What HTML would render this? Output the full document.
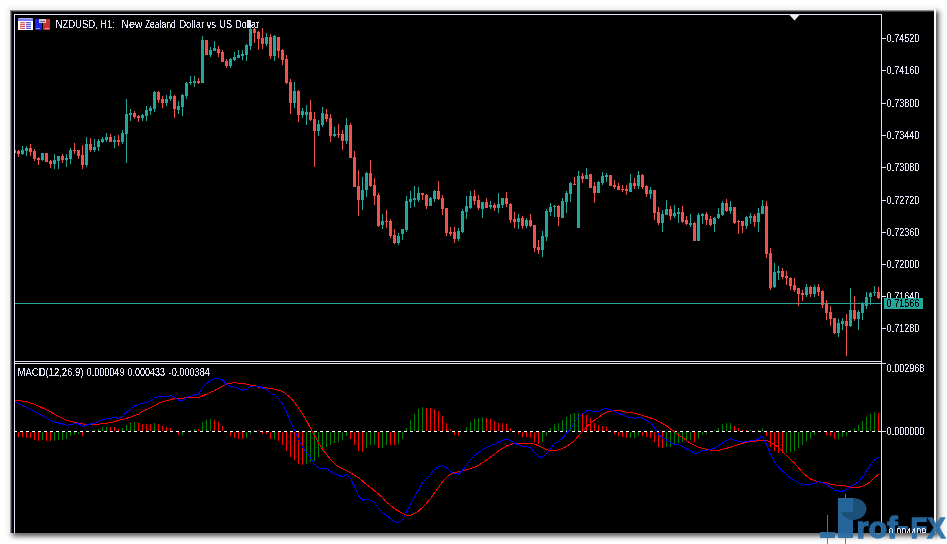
<!DOCTYPE html>
<html><head><meta charset="utf-8"><style>
html,body{margin:0;padding:0;background:#fff;width:947px;height:544px;overflow:hidden}
svg{display:block;font-family:"Liberation Sans", sans-serif}
</style></head><body><svg width="947" height="544" viewBox="0 0 947 544" font-family='"Liberation Sans", sans-serif'><rect x="0" y="0" width="947" height="544" fill="#ffffff"/><defs><filter id="th" x="0" y="0" width="100%" height="100%"><feComponentTransfer><feFuncA type="discrete" tableValues="0 0 0 0 0 0 0 0 0 1 1 1 1 1 1 1 1 1 1 1"/></feComponentTransfer></filter></defs><rect x="4" y="4" width="1" height="3" fill="rgb(254,254,254)"/><rect x="4" y="7" width="1" height="2" fill="rgb(253,253,253)"/><rect x="4" y="9" width="1" height="525" fill="rgb(252,252,252)"/><rect x="4" y="534" width="1" height="2" fill="rgb(253,253,253)"/><rect x="4" y="536" width="1" height="3" fill="rgb(254,254,254)"/><rect x="5" y="4" width="1" height="1" fill="rgb(254,254,254)"/><rect x="5" y="5" width="1" height="2" fill="rgb(253,253,253)"/><rect x="5" y="7" width="1" height="1" fill="rgb(252,252,252)"/><rect x="5" y="8" width="1" height="1" fill="rgb(251,251,251)"/><rect x="5" y="9" width="1" height="525" fill="rgb(250,250,250)"/><rect x="5" y="534" width="1" height="1" fill="rgb(251,251,251)"/><rect x="5" y="535" width="1" height="1" fill="rgb(252,252,252)"/><rect x="5" y="536" width="1" height="2" fill="rgb(253,253,253)"/><rect x="5" y="538" width="1" height="1" fill="rgb(254,254,254)"/><rect x="6" y="4" width="1" height="1" fill="rgb(254,254,254)"/><rect x="6" y="5" width="1" height="1" fill="rgb(253,253,253)"/><rect x="6" y="6" width="1" height="1" fill="rgb(252,252,252)"/><rect x="6" y="7" width="1" height="1" fill="rgb(251,251,251)"/><rect x="6" y="8" width="1" height="1" fill="rgb(249,249,249)"/><rect x="6" y="9" width="1" height="525" fill="rgb(248,248,248)"/><rect x="6" y="534" width="1" height="1" fill="rgb(249,249,249)"/><rect x="6" y="535" width="1" height="1" fill="rgb(251,251,251)"/><rect x="6" y="536" width="1" height="1" fill="rgb(252,252,252)"/><rect x="6" y="537" width="1" height="1" fill="rgb(253,253,253)"/><rect x="6" y="538" width="1" height="2" fill="rgb(254,254,254)"/><rect x="7" y="4" width="1" height="1" fill="rgb(253,253,253)"/><rect x="7" y="5" width="1" height="1" fill="rgb(252,252,252)"/><rect x="7" y="6" width="1" height="1" fill="rgb(251,251,251)"/><rect x="7" y="7" width="1" height="1" fill="rgb(250,250,250)"/><rect x="7" y="8" width="1" height="1" fill="rgb(248,248,248)"/><rect x="7" y="9" width="1" height="525" fill="rgb(246,246,246)"/><rect x="7" y="534" width="1" height="1" fill="rgb(247,247,247)"/><rect x="7" y="535" width="1" height="1" fill="rgb(248,248,248)"/><rect x="7" y="536" width="1" height="1" fill="rgb(250,250,250)"/><rect x="7" y="537" width="1" height="1" fill="rgb(251,251,251)"/><rect x="7" y="538" width="1" height="1" fill="rgb(253,253,253)"/><rect x="7" y="539" width="1" height="2" fill="rgb(254,254,254)"/><rect x="8" y="4" width="1" height="1" fill="rgb(253,253,253)"/><rect x="8" y="5" width="1" height="1" fill="rgb(251,251,251)"/><rect x="8" y="6" width="1" height="1" fill="rgb(249,249,249)"/><rect x="8" y="7" width="1" height="1" fill="rgb(248,248,248)"/><rect x="8" y="8" width="1" height="1" fill="rgb(245,245,245)"/><rect x="8" y="9" width="1" height="524" fill="rgb(243,243,243)"/><rect x="8" y="533" width="1" height="1" fill="rgb(238,238,238)"/><rect x="8" y="534" width="1" height="1" fill="rgb(240,240,240)"/><rect x="8" y="535" width="1" height="1" fill="rgb(242,242,242)"/><rect x="8" y="536" width="1" height="1" fill="rgb(245,245,245)"/><rect x="8" y="537" width="1" height="1" fill="rgb(248,248,248)"/><rect x="8" y="538" width="1" height="1" fill="rgb(251,251,251)"/><rect x="8" y="539" width="1" height="1" fill="rgb(253,253,253)"/><rect x="8" y="540" width="1" height="2" fill="rgb(254,254,254)"/><rect x="9" y="4" width="1" height="1" fill="rgb(252,252,252)"/><rect x="9" y="5" width="1" height="1" fill="rgb(250,250,250)"/><rect x="9" y="6" width="1" height="1" fill="rgb(248,248,248)"/><rect x="9" y="7" width="1" height="1" fill="rgb(246,246,246)"/><rect x="9" y="8" width="1" height="1" fill="rgb(243,243,243)"/><rect x="9" y="9" width="1" height="524" fill="rgb(240,240,240)"/><rect x="9" y="533" width="1" height="1" fill="rgb(227,227,227)"/><rect x="9" y="534" width="1" height="1" fill="rgb(230,230,230)"/><rect x="9" y="535" width="1" height="1" fill="rgb(234,234,234)"/><rect x="9" y="536" width="1" height="1" fill="rgb(239,239,239)"/><rect x="9" y="537" width="1" height="1" fill="rgb(244,244,244)"/><rect x="9" y="538" width="1" height="1" fill="rgb(248,248,248)"/><rect x="9" y="539" width="1" height="1" fill="rgb(251,251,251)"/><rect x="9" y="540" width="1" height="1" fill="rgb(253,253,253)"/><rect x="9" y="541" width="1" height="1" fill="rgb(254,254,254)"/><rect x="936" y="4" width="1" height="1" fill="rgb(252,252,252)"/><rect x="936" y="5" width="1" height="1" fill="rgb(250,250,250)"/><rect x="936" y="6" width="1" height="1" fill="rgb(248,248,248)"/><rect x="936" y="7" width="1" height="1" fill="rgb(243,243,243)"/><rect x="936" y="8" width="1" height="1" fill="rgb(231,231,231)"/><rect x="936" y="9" width="1" height="1" fill="rgb(214,214,214)"/><rect x="936" y="10" width="1" height="1" fill="rgb(192,192,192)"/><rect x="936" y="11" width="1" height="1" fill="rgb(168,168,168)"/><rect x="936" y="12" width="1" height="1" fill="rgb(146,146,146)"/><rect x="936" y="13" width="1" height="1" fill="rgb(129,129,129)"/><rect x="936" y="14" width="1" height="1" fill="rgb(117,117,117)"/><rect x="936" y="15" width="1" height="1" fill="rgb(110,110,110)"/><rect x="936" y="16" width="1" height="1" fill="rgb(107,107,107)"/><rect x="936" y="17" width="1" height="1" fill="rgb(106,106,106)"/><rect x="936" y="18" width="1" height="515" fill="rgb(105,105,105)"/><rect x="936" y="533" width="1" height="1" fill="rgb(121,121,121)"/><rect x="936" y="534" width="1" height="1" fill="rgb(132,132,132)"/><rect x="936" y="535" width="1" height="1" fill="rgb(152,152,152)"/><rect x="936" y="536" width="1" height="1" fill="rgb(177,177,177)"/><rect x="936" y="537" width="1" height="1" fill="rgb(201,201,201)"/><rect x="936" y="538" width="1" height="1" fill="rgb(221,221,221)"/><rect x="936" y="539" width="1" height="1" fill="rgb(235,235,235)"/><rect x="936" y="540" width="1" height="1" fill="rgb(245,245,245)"/><rect x="936" y="541" width="1" height="1" fill="rgb(250,250,250)"/><rect x="936" y="542" width="1" height="1" fill="rgb(253,253,253)"/><rect x="937" y="4" width="1" height="1" fill="rgb(253,253,253)"/><rect x="937" y="5" width="1" height="1" fill="rgb(251,251,251)"/><rect x="937" y="6" width="1" height="1" fill="rgb(249,249,249)"/><rect x="937" y="7" width="1" height="1" fill="rgb(245,245,245)"/><rect x="937" y="8" width="1" height="1" fill="rgb(235,235,235)"/><rect x="937" y="9" width="1" height="1" fill="rgb(221,221,221)"/><rect x="937" y="10" width="1" height="1" fill="rgb(202,202,202)"/><rect x="937" y="11" width="1" height="1" fill="rgb(183,183,183)"/><rect x="937" y="12" width="1" height="1" fill="rgb(164,164,164)"/><rect x="937" y="13" width="1" height="1" fill="rgb(150,150,150)"/><rect x="937" y="14" width="1" height="1" fill="rgb(140,140,140)"/><rect x="937" y="15" width="1" height="1" fill="rgb(134,134,134)"/><rect x="937" y="16" width="1" height="1" fill="rgb(132,132,132)"/><rect x="937" y="17" width="1" height="1" fill="rgb(131,131,131)"/><rect x="937" y="18" width="1" height="515" fill="rgb(130,130,130)"/><rect x="937" y="533" width="1" height="1" fill="rgb(143,143,143)"/><rect x="937" y="534" width="1" height="1" fill="rgb(153,153,153)"/><rect x="937" y="535" width="1" height="1" fill="rgb(169,169,169)"/><rect x="937" y="536" width="1" height="1" fill="rgb(190,190,190)"/><rect x="937" y="537" width="1" height="1" fill="rgb(210,210,210)"/><rect x="937" y="538" width="1" height="1" fill="rgb(226,226,226)"/><rect x="937" y="539" width="1" height="1" fill="rgb(239,239,239)"/><rect x="937" y="540" width="1" height="1" fill="rgb(247,247,247)"/><rect x="937" y="541" width="1" height="1" fill="rgb(251,251,251)"/><rect x="937" y="542" width="1" height="1" fill="rgb(253,253,253)"/><rect x="938" y="4" width="1" height="1" fill="rgb(253,253,253)"/><rect x="938" y="5" width="1" height="1" fill="rgb(252,252,252)"/><rect x="938" y="6" width="1" height="1" fill="rgb(251,251,251)"/><rect x="938" y="7" width="1" height="1" fill="rgb(247,247,247)"/><rect x="938" y="8" width="1" height="1" fill="rgb(240,240,240)"/><rect x="938" y="9" width="1" height="1" fill="rgb(229,229,229)"/><rect x="938" y="10" width="1" height="1" fill="rgb(215,215,215)"/><rect x="938" y="11" width="1" height="1" fill="rgb(200,200,200)"/><rect x="938" y="12" width="1" height="1" fill="rgb(186,186,186)"/><rect x="938" y="13" width="1" height="1" fill="rgb(175,175,175)"/><rect x="938" y="14" width="1" height="1" fill="rgb(168,168,168)"/><rect x="938" y="15" width="1" height="1" fill="rgb(163,163,163)"/><rect x="938" y="16" width="1" height="1" fill="rgb(161,161,161)"/><rect x="938" y="17" width="1" height="516" fill="rgb(160,160,160)"/><rect x="938" y="533" width="1" height="1" fill="rgb(170,170,170)"/><rect x="938" y="534" width="1" height="1" fill="rgb(177,177,177)"/><rect x="938" y="535" width="1" height="1" fill="rgb(190,190,190)"/><rect x="938" y="536" width="1" height="1" fill="rgb(205,205,205)"/><rect x="938" y="537" width="1" height="1" fill="rgb(221,221,221)"/><rect x="938" y="538" width="1" height="1" fill="rgb(233,233,233)"/><rect x="938" y="539" width="1" height="1" fill="rgb(243,243,243)"/><rect x="938" y="540" width="1" height="1" fill="rgb(249,249,249)"/><rect x="938" y="541" width="1" height="1" fill="rgb(252,252,252)"/><rect x="938" y="542" width="1" height="1" fill="rgb(254,254,254)"/><rect x="939" y="4" width="1" height="1" fill="rgb(254,254,254)"/><rect x="939" y="5" width="1" height="1" fill="rgb(253,253,253)"/><rect x="939" y="6" width="1" height="1" fill="rgb(252,252,252)"/><rect x="939" y="7" width="1" height="1" fill="rgb(250,250,250)"/><rect x="939" y="8" width="1" height="1" fill="rgb(245,245,245)"/><rect x="939" y="9" width="1" height="1" fill="rgb(237,237,237)"/><rect x="939" y="10" width="1" height="1" fill="rgb(228,228,228)"/><rect x="939" y="11" width="1" height="1" fill="rgb(217,217,217)"/><rect x="939" y="12" width="1" height="1" fill="rgb(208,208,208)"/><rect x="939" y="13" width="1" height="1" fill="rgb(200,200,200)"/><rect x="939" y="14" width="1" height="1" fill="rgb(195,195,195)"/><rect x="939" y="15" width="1" height="1" fill="rgb(192,192,192)"/><rect x="939" y="16" width="1" height="1" fill="rgb(191,191,191)"/><rect x="939" y="17" width="1" height="516" fill="rgb(190,190,190)"/><rect x="939" y="533" width="1" height="1" fill="rgb(197,197,197)"/><rect x="939" y="534" width="1" height="1" fill="rgb(202,202,202)"/><rect x="939" y="535" width="1" height="1" fill="rgb(210,210,210)"/><rect x="939" y="536" width="1" height="1" fill="rgb(221,221,221)"/><rect x="939" y="537" width="1" height="1" fill="rgb(232,232,232)"/><rect x="939" y="538" width="1" height="1" fill="rgb(240,240,240)"/><rect x="939" y="539" width="1" height="1" fill="rgb(247,247,247)"/><rect x="939" y="540" width="1" height="1" fill="rgb(251,251,251)"/><rect x="939" y="541" width="1" height="1" fill="rgb(253,253,253)"/><rect x="939" y="542" width="1" height="1" fill="rgb(254,254,254)"/><rect x="940" y="4" width="1" height="1" fill="rgb(254,254,254)"/><rect x="940" y="5" width="1" height="2" fill="rgb(253,253,253)"/><rect x="940" y="7" width="1" height="1" fill="rgb(252,252,252)"/><rect x="940" y="8" width="1" height="1" fill="rgb(248,248,248)"/><rect x="940" y="9" width="1" height="1" fill="rgb(243,243,243)"/><rect x="940" y="10" width="1" height="1" fill="rgb(237,237,237)"/><rect x="940" y="11" width="1" height="1" fill="rgb(231,231,231)"/><rect x="940" y="12" width="1" height="1" fill="rgb(225,225,225)"/><rect x="940" y="13" width="1" height="1" fill="rgb(220,220,220)"/><rect x="940" y="14" width="1" height="1" fill="rgb(216,216,216)"/><rect x="940" y="15" width="1" height="1" fill="rgb(215,215,215)"/><rect x="940" y="16" width="1" height="1" fill="rgb(214,214,214)"/><rect x="940" y="17" width="1" height="516" fill="rgb(213,213,213)"/><rect x="940" y="533" width="1" height="1" fill="rgb(217,217,217)"/><rect x="940" y="534" width="1" height="1" fill="rgb(221,221,221)"/><rect x="940" y="535" width="1" height="1" fill="rgb(226,226,226)"/><rect x="940" y="536" width="1" height="1" fill="rgb(233,233,233)"/><rect x="940" y="537" width="1" height="1" fill="rgb(240,240,240)"/><rect x="940" y="538" width="1" height="1" fill="rgb(245,245,245)"/><rect x="940" y="539" width="1" height="1" fill="rgb(250,250,250)"/><rect x="940" y="540" width="1" height="1" fill="rgb(252,252,252)"/><rect x="940" y="541" width="1" height="2" fill="rgb(254,254,254)"/><rect x="941" y="4" width="1" height="3" fill="rgb(254,254,254)"/><rect x="941" y="7" width="1" height="1" fill="rgb(253,253,253)"/><rect x="941" y="8" width="1" height="1" fill="rgb(251,251,251)"/><rect x="941" y="9" width="1" height="1" fill="rgb(248,248,248)"/><rect x="941" y="10" width="1" height="1" fill="rgb(244,244,244)"/><rect x="941" y="11" width="1" height="1" fill="rgb(239,239,239)"/><rect x="941" y="12" width="1" height="1" fill="rgb(235,235,235)"/><rect x="941" y="13" width="1" height="1" fill="rgb(232,232,232)"/><rect x="941" y="14" width="1" height="1" fill="rgb(230,230,230)"/><rect x="941" y="15" width="1" height="1" fill="rgb(229,229,229)"/><rect x="941" y="16" width="1" height="517" fill="rgb(228,228,228)"/><rect x="941" y="533" width="1" height="1" fill="rgb(231,231,231)"/><rect x="941" y="534" width="1" height="1" fill="rgb(233,233,233)"/><rect x="941" y="535" width="1" height="1" fill="rgb(236,236,236)"/><rect x="941" y="536" width="1" height="1" fill="rgb(241,241,241)"/><rect x="941" y="537" width="1" height="1" fill="rgb(245,245,245)"/><rect x="941" y="538" width="1" height="1" fill="rgb(249,249,249)"/><rect x="941" y="539" width="1" height="1" fill="rgb(251,251,251)"/><rect x="941" y="540" width="1" height="1" fill="rgb(253,253,253)"/><rect x="941" y="541" width="1" height="1" fill="rgb(254,254,254)"/><rect x="942" y="6" width="1" height="2" fill="rgb(254,254,254)"/><rect x="942" y="8" width="1" height="1" fill="rgb(252,252,252)"/><rect x="942" y="9" width="1" height="1" fill="rgb(250,250,250)"/><rect x="942" y="10" width="1" height="1" fill="rgb(248,248,248)"/><rect x="942" y="11" width="1" height="1" fill="rgb(245,245,245)"/><rect x="942" y="12" width="1" height="1" fill="rgb(243,243,243)"/><rect x="942" y="13" width="1" height="1" fill="rgb(241,241,241)"/><rect x="942" y="14" width="1" height="2" fill="rgb(239,239,239)"/><rect x="942" y="16" width="1" height="517" fill="rgb(238,238,238)"/><rect x="942" y="533" width="1" height="1" fill="rgb(240,240,240)"/><rect x="942" y="534" width="1" height="1" fill="rgb(241,241,241)"/><rect x="942" y="535" width="1" height="1" fill="rgb(243,243,243)"/><rect x="942" y="536" width="1" height="1" fill="rgb(246,246,246)"/><rect x="942" y="537" width="1" height="1" fill="rgb(249,249,249)"/><rect x="942" y="538" width="1" height="1" fill="rgb(251,251,251)"/><rect x="942" y="539" width="1" height="1" fill="rgb(253,253,253)"/><rect x="942" y="540" width="1" height="2" fill="rgb(254,254,254)"/><rect x="943" y="7" width="1" height="1" fill="rgb(254,254,254)"/><rect x="943" y="8" width="1" height="1" fill="rgb(253,253,253)"/><rect x="943" y="9" width="1" height="1" fill="rgb(252,252,252)"/><rect x="943" y="10" width="1" height="1" fill="rgb(251,251,251)"/><rect x="943" y="11" width="1" height="1" fill="rgb(249,249,249)"/><rect x="943" y="12" width="1" height="1" fill="rgb(248,248,248)"/><rect x="943" y="13" width="1" height="1" fill="rgb(247,247,247)"/><rect x="943" y="14" width="1" height="1" fill="rgb(246,246,246)"/><rect x="943" y="15" width="1" height="518" fill="rgb(245,245,245)"/><rect x="943" y="533" width="1" height="1" fill="rgb(246,246,246)"/><rect x="943" y="534" width="1" height="1" fill="rgb(247,247,247)"/><rect x="943" y="535" width="1" height="1" fill="rgb(248,248,248)"/><rect x="943" y="536" width="1" height="1" fill="rgb(250,250,250)"/><rect x="943" y="537" width="1" height="1" fill="rgb(251,251,251)"/><rect x="943" y="538" width="1" height="1" fill="rgb(253,253,253)"/><rect x="943" y="539" width="1" height="2" fill="rgb(254,254,254)"/><rect x="944" y="8" width="1" height="2" fill="rgb(254,254,254)"/><rect x="944" y="10" width="1" height="1" fill="rgb(253,253,253)"/><rect x="944" y="11" width="1" height="1" fill="rgb(252,252,252)"/><rect x="944" y="12" width="1" height="2" fill="rgb(251,251,251)"/><rect x="944" y="14" width="1" height="519" fill="rgb(250,250,250)"/><rect x="944" y="533" width="1" height="2" fill="rgb(251,251,251)"/><rect x="944" y="535" width="1" height="2" fill="rgb(252,252,252)"/><rect x="944" y="537" width="1" height="1" fill="rgb(253,253,253)"/><rect x="944" y="538" width="1" height="2" fill="rgb(254,254,254)"/><rect x="945" y="9" width="1" height="4" fill="rgb(254,254,254)"/><rect x="945" y="13" width="1" height="522" fill="rgb(253,253,253)"/><rect x="945" y="535" width="1" height="3" fill="rgb(254,254,254)"/><rect x="10" y="4" width="926" height="1" fill="rgb(252,252,252)"/><rect x="10" y="5" width="926" height="1" fill="rgb(250,250,250)"/><rect x="10" y="6" width="926" height="1" fill="rgb(248,248,248)"/><rect x="10" y="7" width="926" height="1" fill="rgb(246,246,246)"/><rect x="10" y="8" width="926" height="1" fill="rgb(243,243,243)"/><rect x="10" y="9" width="926" height="1" fill="rgb(240,240,240)"/><rect x="10" y="533" width="1" height="1" fill="rgb(213,213,213)"/><rect x="11" y="533" width="1" height="1" fill="rgb(196,196,196)"/><rect x="12" y="533" width="1" height="1" fill="rgb(177,177,177)"/><rect x="13" y="533" width="1" height="1" fill="rgb(160,160,160)"/><rect x="14" y="533" width="1" height="1" fill="rgb(146,146,146)"/><rect x="15" y="533" width="1" height="1" fill="rgb(135,135,135)"/><rect x="16" y="533" width="1" height="1" fill="rgb(127,127,127)"/><rect x="17" y="533" width="1" height="1" fill="rgb(123,123,123)"/><rect x="18" y="533" width="1" height="1" fill="rgb(120,120,120)"/><rect x="19" y="533" width="1" height="1" fill="rgb(119,119,119)"/><rect x="20" y="533" width="916" height="1" fill="rgb(118,118,118)"/><rect x="10" y="534" width="1" height="1" fill="rgb(216,216,216)"/><rect x="11" y="534" width="1" height="1" fill="rgb(201,201,201)"/><rect x="12" y="534" width="1" height="1" fill="rgb(184,184,184)"/><rect x="13" y="534" width="1" height="1" fill="rgb(169,169,169)"/><rect x="14" y="534" width="1" height="1" fill="rgb(155,155,155)"/><rect x="15" y="534" width="1" height="1" fill="rgb(145,145,145)"/><rect x="16" y="534" width="1" height="1" fill="rgb(138,138,138)"/><rect x="17" y="534" width="1" height="1" fill="rgb(134,134,134)"/><rect x="18" y="534" width="1" height="1" fill="rgb(132,132,132)"/><rect x="19" y="534" width="1" height="1" fill="rgb(131,131,131)"/><rect x="20" y="534" width="916" height="1" fill="rgb(130,130,130)"/><rect x="10" y="535" width="1" height="1" fill="rgb(223,223,223)"/><rect x="11" y="535" width="1" height="1" fill="rgb(209,209,209)"/><rect x="12" y="535" width="1" height="1" fill="rgb(196,196,196)"/><rect x="13" y="535" width="1" height="1" fill="rgb(182,182,182)"/><rect x="14" y="535" width="1" height="1" fill="rgb(171,171,171)"/><rect x="15" y="535" width="1" height="1" fill="rgb(163,163,163)"/><rect x="16" y="535" width="1" height="1" fill="rgb(157,157,157)"/><rect x="17" y="535" width="1" height="1" fill="rgb(154,154,154)"/><rect x="18" y="535" width="1" height="1" fill="rgb(152,152,152)"/><rect x="19" y="535" width="1" height="1" fill="rgb(151,151,151)"/><rect x="20" y="535" width="916" height="1" fill="rgb(150,150,150)"/><rect x="10" y="536" width="1" height="1" fill="rgb(230,230,230)"/><rect x="11" y="536" width="1" height="1" fill="rgb(220,220,220)"/><rect x="12" y="536" width="1" height="1" fill="rgb(210,210,210)"/><rect x="13" y="536" width="1" height="1" fill="rgb(200,200,200)"/><rect x="14" y="536" width="1" height="1" fill="rgb(191,191,191)"/><rect x="15" y="536" width="1" height="1" fill="rgb(185,185,185)"/><rect x="16" y="536" width="1" height="1" fill="rgb(180,180,180)"/><rect x="17" y="536" width="1" height="1" fill="rgb(178,178,178)"/><rect x="18" y="536" width="1" height="1" fill="rgb(176,176,176)"/><rect x="19" y="536" width="917" height="1" fill="rgb(175,175,175)"/><rect x="10" y="537" width="1" height="1" fill="rgb(238,238,238)"/><rect x="11" y="537" width="1" height="1" fill="rgb(231,231,231)"/><rect x="12" y="537" width="1" height="1" fill="rgb(224,224,224)"/><rect x="13" y="537" width="1" height="1" fill="rgb(217,217,217)"/><rect x="14" y="537" width="1" height="1" fill="rgb(211,211,211)"/><rect x="15" y="537" width="1" height="1" fill="rgb(207,207,207)"/><rect x="16" y="537" width="1" height="1" fill="rgb(204,204,204)"/><rect x="17" y="537" width="1" height="1" fill="rgb(202,202,202)"/><rect x="18" y="537" width="1" height="1" fill="rgb(201,201,201)"/><rect x="19" y="537" width="917" height="1" fill="rgb(200,200,200)"/><rect x="10" y="538" width="1" height="1" fill="rgb(244,244,244)"/><rect x="11" y="538" width="1" height="1" fill="rgb(240,240,240)"/><rect x="12" y="538" width="1" height="1" fill="rgb(235,235,235)"/><rect x="13" y="538" width="1" height="1" fill="rgb(231,231,231)"/><rect x="14" y="538" width="1" height="1" fill="rgb(227,227,227)"/><rect x="15" y="538" width="1" height="1" fill="rgb(224,224,224)"/><rect x="16" y="538" width="1" height="1" fill="rgb(222,222,222)"/><rect x="17" y="538" width="2" height="1" fill="rgb(221,221,221)"/><rect x="19" y="538" width="917" height="1" fill="rgb(220,220,220)"/><rect x="10" y="539" width="1" height="1" fill="rgb(249,249,249)"/><rect x="11" y="539" width="1" height="1" fill="rgb(246,246,246)"/><rect x="12" y="539" width="1" height="1" fill="rgb(244,244,244)"/><rect x="13" y="539" width="1" height="1" fill="rgb(241,241,241)"/><rect x="14" y="539" width="1" height="1" fill="rgb(239,239,239)"/><rect x="15" y="539" width="1" height="1" fill="rgb(237,237,237)"/><rect x="16" y="539" width="2" height="1" fill="rgb(236,236,236)"/><rect x="18" y="539" width="918" height="1" fill="rgb(235,235,235)"/><rect x="10" y="540" width="1" height="1" fill="rgb(252,252,252)"/><rect x="11" y="540" width="1" height="1" fill="rgb(251,251,251)"/><rect x="12" y="540" width="1" height="1" fill="rgb(249,249,249)"/><rect x="13" y="540" width="1" height="1" fill="rgb(248,248,248)"/><rect x="14" y="540" width="1" height="1" fill="rgb(247,247,247)"/><rect x="15" y="540" width="2" height="1" fill="rgb(246,246,246)"/><rect x="17" y="540" width="919" height="1" fill="rgb(245,245,245)"/><rect x="10" y="541" width="2" height="1" fill="rgb(253,253,253)"/><rect x="12" y="541" width="2" height="1" fill="rgb(252,252,252)"/><rect x="14" y="541" width="2" height="1" fill="rgb(251,251,251)"/><rect x="16" y="541" width="920" height="1" fill="rgb(250,250,250)"/><rect x="10" y="542" width="4" height="1" fill="rgb(254,254,254)"/><rect x="14" y="542" width="922" height="1" fill="rgb(253,253,253)"/><rect x="10" y="10" width="926" height="523" fill="#000000"/><rect x="10" y="10" width="926" height="1" fill="rgb(140,140,140)"/><rect x="10" y="10" width="1" height="523" fill="rgb(140,140,140)"/><rect x="11" y="11" width="923" height="1" fill="rgb(60,60,60)"/><rect x="11" y="11" width="1" height="522" fill="rgb(60,60,60)"/><rect x="934" y="10" width="2" height="523" fill="#ffffff"/><rect x="14" y="14" width="868" height="1" fill="#e2e2f6"/><rect x="14" y="14" width="1" height="519" fill="#e2e2f6"/><rect x="881" y="14" width="1" height="519" fill="#e2e2f6"/><rect x="14" y="361" width="868" height="1" fill="#e2e2f6"/><rect x="14" y="363" width="872" height="1" fill="#e2e2f6"/><rect x="15" y="303" width="866" height="1" fill="#26a69a"/><g shape-rendering="crispEdges"><rect x="15" y="150" width="1" height="3" fill="#26a69a"/><rect x="18" y="150" width="1" height="7" fill="#ef5350"/><rect x="17" y="151" width="3" height="3" fill="#ef5350"/><rect x="22" y="146" width="1" height="9" fill="#26a69a"/><rect x="21" y="150" width="3" height="4" fill="#26a69a"/><rect x="26" y="146" width="1" height="10" fill="#26a69a"/><rect x="25" y="148" width="3" height="3" fill="#26a69a"/><rect x="30" y="144" width="1" height="12" fill="#ef5350"/><rect x="29" y="148" width="3" height="4" fill="#ef5350"/><rect x="34" y="149" width="1" height="12" fill="#ef5350"/><rect x="33" y="151" width="3" height="8" fill="#ef5350"/><rect x="38" y="157" width="1" height="8" fill="#ef5350"/><rect x="37" y="158" width="3" height="2" fill="#ef5350"/><rect x="42" y="153" width="1" height="8" fill="#26a69a"/><rect x="41" y="153" width="3" height="7" fill="#26a69a"/><rect x="46" y="153" width="1" height="9" fill="#ef5350"/><rect x="45" y="153" width="3" height="9" fill="#ef5350"/><rect x="50" y="160" width="1" height="8" fill="#ef5350"/><rect x="49" y="161" width="3" height="3" fill="#ef5350"/><rect x="54" y="154" width="1" height="15" fill="#26a69a"/><rect x="53" y="160" width="3" height="4" fill="#26a69a"/><rect x="58" y="156" width="1" height="13" fill="#26a69a"/><rect x="57" y="156" width="3" height="5" fill="#26a69a"/><rect x="62" y="154" width="1" height="9" fill="#ef5350"/><rect x="61" y="156" width="3" height="4" fill="#ef5350"/><rect x="66" y="154" width="1" height="13" fill="#26a69a"/><rect x="65" y="158" width="3" height="2" fill="#26a69a"/><rect x="70" y="148" width="1" height="16" fill="#26a69a"/><rect x="69" y="150" width="3" height="9" fill="#26a69a"/><rect x="74" y="143" width="1" height="11" fill="#ef5350"/><rect x="73" y="150" width="3" height="1" fill="#ef5350"/><rect x="78" y="150" width="1" height="9" fill="#ef5350"/><rect x="77" y="150" width="3" height="6" fill="#ef5350"/><rect x="82" y="145" width="1" height="24" fill="#ef5350"/><rect x="81" y="155" width="3" height="10" fill="#ef5350"/><rect x="86" y="137" width="1" height="30" fill="#26a69a"/><rect x="85" y="144" width="3" height="21" fill="#26a69a"/><rect x="90" y="138" width="1" height="14" fill="#ef5350"/><rect x="89" y="144" width="3" height="6" fill="#ef5350"/><rect x="94" y="139" width="1" height="13" fill="#26a69a"/><rect x="93" y="147" width="3" height="3" fill="#26a69a"/><rect x="98" y="139" width="1" height="12" fill="#26a69a"/><rect x="97" y="141" width="3" height="6" fill="#26a69a"/><rect x="102" y="137" width="1" height="6" fill="#26a69a"/><rect x="101" y="139" width="3" height="3" fill="#26a69a"/><rect x="106" y="133" width="1" height="9" fill="#26a69a"/><rect x="105" y="137" width="3" height="3" fill="#26a69a"/><rect x="110" y="134" width="1" height="8" fill="#ef5350"/><rect x="109" y="137" width="3" height="5" fill="#ef5350"/><rect x="114" y="136" width="1" height="12" fill="#26a69a"/><rect x="113" y="140" width="3" height="2" fill="#26a69a"/><rect x="118" y="135" width="1" height="11" fill="#ef5350"/><rect x="117" y="140" width="3" height="2" fill="#ef5350"/><rect x="122" y="130" width="1" height="14" fill="#26a69a"/><rect x="121" y="133" width="3" height="9" fill="#26a69a"/><rect x="126" y="99" width="1" height="64" fill="#26a69a"/><rect x="125" y="114" width="3" height="20" fill="#26a69a"/><rect x="130" y="109" width="1" height="12" fill="#26a69a"/><rect x="129" y="113" width="3" height="2" fill="#26a69a"/><rect x="134" y="111" width="1" height="8" fill="#ef5350"/><rect x="133" y="113" width="3" height="4" fill="#ef5350"/><rect x="138" y="115" width="1" height="7" fill="#ef5350"/><rect x="137" y="116" width="3" height="2" fill="#ef5350"/><rect x="142" y="114" width="1" height="7" fill="#26a69a"/><rect x="141" y="115" width="3" height="3" fill="#26a69a"/><rect x="146" y="106" width="1" height="15" fill="#26a69a"/><rect x="145" y="110" width="3" height="6" fill="#26a69a"/><rect x="150" y="106" width="1" height="9" fill="#26a69a"/><rect x="149" y="108" width="3" height="3" fill="#26a69a"/><rect x="154" y="91" width="1" height="21" fill="#26a69a"/><rect x="153" y="92" width="3" height="17" fill="#26a69a"/><rect x="158" y="91" width="1" height="12" fill="#ef5350"/><rect x="157" y="92" width="3" height="8" fill="#ef5350"/><rect x="162" y="96" width="1" height="12" fill="#ef5350"/><rect x="161" y="99" width="3" height="4" fill="#ef5350"/><rect x="166" y="95" width="1" height="11" fill="#26a69a"/><rect x="165" y="99" width="3" height="4" fill="#26a69a"/><rect x="170" y="90" width="1" height="11" fill="#26a69a"/><rect x="169" y="96" width="3" height="3" fill="#26a69a"/><rect x="174" y="95" width="1" height="23" fill="#ef5350"/><rect x="173" y="96" width="3" height="13" fill="#ef5350"/><rect x="178" y="101" width="1" height="13" fill="#26a69a"/><rect x="177" y="106" width="3" height="4" fill="#26a69a"/><rect x="182" y="94" width="1" height="22" fill="#26a69a"/><rect x="181" y="95" width="3" height="12" fill="#26a69a"/><rect x="186" y="82" width="1" height="17" fill="#26a69a"/><rect x="185" y="83" width="3" height="13" fill="#26a69a"/><rect x="190" y="76" width="1" height="9" fill="#26a69a"/><rect x="189" y="82" width="3" height="1" fill="#26a69a"/><rect x="194" y="76" width="1" height="11" fill="#26a69a"/><rect x="193" y="81" width="3" height="2" fill="#26a69a"/><rect x="198" y="78" width="1" height="6" fill="#ef5350"/><rect x="197" y="81" width="3" height="2" fill="#ef5350"/><rect x="202" y="36" width="1" height="47" fill="#26a69a"/><rect x="201" y="40" width="3" height="43" fill="#26a69a"/><rect x="206" y="40" width="1" height="15" fill="#ef5350"/><rect x="205" y="40" width="3" height="15" fill="#ef5350"/><rect x="210" y="47" width="1" height="10" fill="#26a69a"/><rect x="209" y="50" width="3" height="5" fill="#26a69a"/><rect x="214" y="41" width="1" height="10" fill="#26a69a"/><rect x="213" y="48" width="3" height="3" fill="#26a69a"/><rect x="218" y="46" width="1" height="11" fill="#ef5350"/><rect x="217" y="49" width="3" height="4" fill="#ef5350"/><rect x="222" y="50" width="1" height="12" fill="#ef5350"/><rect x="221" y="52" width="3" height="10" fill="#ef5350"/><rect x="226" y="59" width="1" height="9" fill="#ef5350"/><rect x="225" y="61" width="3" height="5" fill="#ef5350"/><rect x="230" y="58" width="1" height="10" fill="#26a69a"/><rect x="229" y="59" width="3" height="7" fill="#26a69a"/><rect x="234" y="52" width="1" height="9" fill="#26a69a"/><rect x="233" y="57" width="3" height="3" fill="#26a69a"/><rect x="238" y="50" width="1" height="8" fill="#26a69a"/><rect x="237" y="55" width="3" height="3" fill="#26a69a"/><rect x="242" y="50" width="1" height="10" fill="#26a69a"/><rect x="241" y="54" width="3" height="2" fill="#26a69a"/><rect x="246" y="44" width="1" height="17" fill="#26a69a"/><rect x="245" y="45" width="3" height="10" fill="#26a69a"/><rect x="250" y="28" width="1" height="22" fill="#26a69a"/><rect x="249" y="29" width="3" height="17" fill="#26a69a"/><rect x="254" y="28" width="1" height="15" fill="#ef5350"/><rect x="253" y="29" width="3" height="4" fill="#ef5350"/><rect x="258" y="31" width="1" height="19" fill="#ef5350"/><rect x="257" y="32" width="3" height="7" fill="#ef5350"/><rect x="262" y="28" width="1" height="21" fill="#ef5350"/><rect x="261" y="38" width="3" height="6" fill="#ef5350"/><rect x="266" y="33" width="1" height="13" fill="#26a69a"/><rect x="265" y="37" width="3" height="7" fill="#26a69a"/><rect x="270" y="34" width="1" height="25" fill="#ef5350"/><rect x="269" y="37" width="3" height="19" fill="#ef5350"/><rect x="274" y="35" width="1" height="26" fill="#26a69a"/><rect x="273" y="36" width="3" height="20" fill="#26a69a"/><rect x="278" y="37" width="1" height="21" fill="#ef5350"/><rect x="277" y="37" width="3" height="14" fill="#ef5350"/><rect x="282" y="49" width="1" height="16" fill="#ef5350"/><rect x="281" y="50" width="3" height="10" fill="#ef5350"/><rect x="286" y="55" width="1" height="29" fill="#ef5350"/><rect x="285" y="59" width="3" height="24" fill="#ef5350"/><rect x="290" y="79" width="1" height="35" fill="#ef5350"/><rect x="289" y="82" width="3" height="21" fill="#ef5350"/><rect x="294" y="82" width="1" height="26" fill="#26a69a"/><rect x="293" y="91" width="3" height="12" fill="#26a69a"/><rect x="298" y="90" width="1" height="32" fill="#ef5350"/><rect x="297" y="91" width="3" height="24" fill="#ef5350"/><rect x="302" y="108" width="1" height="10" fill="#26a69a"/><rect x="301" y="111" width="3" height="4" fill="#26a69a"/><rect x="306" y="105" width="1" height="20" fill="#26a69a"/><rect x="305" y="112" width="3" height="3" fill="#26a69a"/><rect x="310" y="100" width="1" height="21" fill="#ef5350"/><rect x="309" y="112" width="3" height="8" fill="#ef5350"/><rect x="314" y="112" width="1" height="55" fill="#ef5350"/><rect x="313" y="119" width="3" height="12" fill="#ef5350"/><rect x="318" y="120" width="1" height="16" fill="#26a69a"/><rect x="317" y="124" width="3" height="7" fill="#26a69a"/><rect x="322" y="107" width="1" height="20" fill="#26a69a"/><rect x="321" y="113" width="3" height="12" fill="#26a69a"/><rect x="326" y="109" width="1" height="13" fill="#ef5350"/><rect x="325" y="114" width="3" height="5" fill="#ef5350"/><rect x="330" y="114" width="1" height="28" fill="#ef5350"/><rect x="329" y="118" width="3" height="18" fill="#ef5350"/><rect x="334" y="127" width="1" height="10" fill="#26a69a"/><rect x="333" y="134" width="3" height="2" fill="#26a69a"/><rect x="338" y="124" width="1" height="14" fill="#ef5350"/><rect x="337" y="134" width="3" height="1" fill="#ef5350"/><rect x="342" y="130" width="1" height="20" fill="#ef5350"/><rect x="341" y="134" width="3" height="7" fill="#ef5350"/><rect x="346" y="118" width="1" height="26" fill="#26a69a"/><rect x="345" y="125" width="3" height="16" fill="#26a69a"/><rect x="350" y="123" width="1" height="35" fill="#ef5350"/><rect x="349" y="125" width="3" height="33" fill="#ef5350"/><rect x="354" y="151" width="1" height="36" fill="#ef5350"/><rect x="353" y="157" width="3" height="30" fill="#ef5350"/><rect x="358" y="170" width="1" height="46" fill="#ef5350"/><rect x="357" y="186" width="3" height="14" fill="#ef5350"/><rect x="362" y="177" width="1" height="33" fill="#26a69a"/><rect x="361" y="190" width="3" height="10" fill="#26a69a"/><rect x="366" y="172" width="1" height="25" fill="#26a69a"/><rect x="365" y="173" width="3" height="17" fill="#26a69a"/><rect x="370" y="160" width="1" height="27" fill="#ef5350"/><rect x="369" y="173" width="3" height="13" fill="#ef5350"/><rect x="374" y="178" width="1" height="27" fill="#ef5350"/><rect x="373" y="185" width="3" height="11" fill="#ef5350"/><rect x="378" y="193" width="1" height="34" fill="#ef5350"/><rect x="377" y="195" width="3" height="31" fill="#ef5350"/><rect x="382" y="214" width="1" height="15" fill="#26a69a"/><rect x="381" y="221" width="3" height="4" fill="#26a69a"/><rect x="386" y="210" width="1" height="18" fill="#ef5350"/><rect x="385" y="221" width="3" height="1" fill="#ef5350"/><rect x="390" y="219" width="1" height="19" fill="#ef5350"/><rect x="389" y="221" width="3" height="15" fill="#ef5350"/><rect x="394" y="229" width="1" height="15" fill="#ef5350"/><rect x="393" y="235" width="3" height="8" fill="#ef5350"/><rect x="398" y="233" width="1" height="12" fill="#26a69a"/><rect x="397" y="236" width="3" height="7" fill="#26a69a"/><rect x="402" y="229" width="1" height="11" fill="#26a69a"/><rect x="401" y="229" width="3" height="5" fill="#26a69a"/><rect x="406" y="196" width="1" height="36" fill="#26a69a"/><rect x="405" y="201" width="3" height="29" fill="#26a69a"/><rect x="410" y="191" width="1" height="17" fill="#26a69a"/><rect x="409" y="199" width="3" height="3" fill="#26a69a"/><rect x="414" y="186" width="1" height="21" fill="#26a69a"/><rect x="413" y="198" width="3" height="2" fill="#26a69a"/><rect x="418" y="187" width="1" height="15" fill="#26a69a"/><rect x="417" y="193" width="3" height="7" fill="#26a69a"/><rect x="422" y="193" width="1" height="7" fill="#ef5350"/><rect x="421" y="193" width="3" height="2" fill="#ef5350"/><rect x="426" y="194" width="1" height="15" fill="#ef5350"/><rect x="425" y="195" width="3" height="11" fill="#ef5350"/><rect x="430" y="197" width="1" height="9" fill="#26a69a"/><rect x="429" y="198" width="3" height="8" fill="#26a69a"/><rect x="434" y="190" width="1" height="12" fill="#26a69a"/><rect x="433" y="191" width="3" height="8" fill="#26a69a"/><rect x="438" y="181" width="1" height="19" fill="#ef5350"/><rect x="437" y="191" width="3" height="8" fill="#ef5350"/><rect x="442" y="195" width="1" height="20" fill="#ef5350"/><rect x="441" y="198" width="3" height="11" fill="#ef5350"/><rect x="446" y="208" width="1" height="28" fill="#ef5350"/><rect x="445" y="208" width="3" height="25" fill="#ef5350"/><rect x="450" y="227" width="1" height="9" fill="#ef5350"/><rect x="449" y="232" width="3" height="2" fill="#ef5350"/><rect x="454" y="227" width="1" height="16" fill="#ef5350"/><rect x="453" y="232" width="3" height="7" fill="#ef5350"/><rect x="458" y="228" width="1" height="13" fill="#26a69a"/><rect x="457" y="231" width="3" height="8" fill="#26a69a"/><rect x="462" y="209" width="1" height="24" fill="#26a69a"/><rect x="461" y="211" width="3" height="21" fill="#26a69a"/><rect x="466" y="196" width="1" height="23" fill="#26a69a"/><rect x="465" y="206" width="3" height="6" fill="#26a69a"/><rect x="470" y="191" width="1" height="18" fill="#26a69a"/><rect x="469" y="196" width="3" height="12" fill="#26a69a"/><rect x="474" y="190" width="1" height="15" fill="#ef5350"/><rect x="473" y="196" width="3" height="5" fill="#ef5350"/><rect x="478" y="195" width="1" height="15" fill="#ef5350"/><rect x="477" y="200" width="3" height="8" fill="#ef5350"/><rect x="482" y="202" width="1" height="16" fill="#26a69a"/><rect x="481" y="202" width="3" height="7" fill="#26a69a"/><rect x="486" y="198" width="1" height="10" fill="#ef5350"/><rect x="485" y="202" width="3" height="6" fill="#ef5350"/><rect x="490" y="201" width="1" height="8" fill="#26a69a"/><rect x="489" y="205" width="3" height="2" fill="#26a69a"/><rect x="494" y="203" width="1" height="8" fill="#ef5350"/><rect x="493" y="205" width="3" height="3" fill="#ef5350"/><rect x="498" y="193" width="1" height="20" fill="#26a69a"/><rect x="497" y="204" width="3" height="4" fill="#26a69a"/><rect x="502" y="198" width="1" height="10" fill="#26a69a"/><rect x="501" y="198" width="3" height="7" fill="#26a69a"/><rect x="506" y="192" width="1" height="15" fill="#ef5350"/><rect x="505" y="198" width="3" height="6" fill="#ef5350"/><rect x="510" y="203" width="1" height="20" fill="#ef5350"/><rect x="509" y="204" width="3" height="16" fill="#ef5350"/><rect x="514" y="212" width="1" height="16" fill="#ef5350"/><rect x="513" y="219" width="3" height="3" fill="#ef5350"/><rect x="518" y="214" width="1" height="15" fill="#26a69a"/><rect x="517" y="218" width="3" height="4" fill="#26a69a"/><rect x="522" y="216" width="1" height="13" fill="#ef5350"/><rect x="521" y="218" width="3" height="8" fill="#ef5350"/><rect x="526" y="218" width="1" height="10" fill="#26a69a"/><rect x="525" y="220" width="3" height="6" fill="#26a69a"/><rect x="530" y="214" width="1" height="13" fill="#ef5350"/><rect x="529" y="220" width="3" height="6" fill="#ef5350"/><rect x="534" y="225" width="1" height="27" fill="#ef5350"/><rect x="533" y="225" width="3" height="23" fill="#ef5350"/><rect x="538" y="240" width="1" height="14" fill="#ef5350"/><rect x="537" y="247" width="3" height="3" fill="#ef5350"/><rect x="542" y="231" width="1" height="26" fill="#26a69a"/><rect x="541" y="236" width="3" height="14" fill="#26a69a"/><rect x="546" y="209" width="1" height="32" fill="#26a69a"/><rect x="545" y="211" width="3" height="26" fill="#26a69a"/><rect x="550" y="203" width="1" height="13" fill="#26a69a"/><rect x="549" y="207" width="3" height="5" fill="#26a69a"/><rect x="554" y="205" width="1" height="12" fill="#26a69a"/><rect x="553" y="206" width="3" height="1" fill="#26a69a"/><rect x="558" y="205" width="1" height="21" fill="#ef5350"/><rect x="557" y="206" width="3" height="11" fill="#ef5350"/><rect x="562" y="198" width="1" height="20" fill="#26a69a"/><rect x="561" y="201" width="3" height="17" fill="#26a69a"/><rect x="566" y="191" width="1" height="22" fill="#26a69a"/><rect x="565" y="193" width="3" height="9" fill="#26a69a"/><rect x="570" y="182" width="1" height="20" fill="#26a69a"/><rect x="569" y="183" width="3" height="11" fill="#26a69a"/><rect x="574" y="177" width="1" height="8" fill="#ef5350"/><rect x="573" y="184" width="3" height="1" fill="#ef5350"/><rect x="578" y="171" width="1" height="57" fill="#26a69a"/><rect x="577" y="176" width="3" height="52" fill="#26a69a"/><rect x="582" y="173" width="1" height="10" fill="#ef5350"/><rect x="581" y="176" width="3" height="3" fill="#ef5350"/><rect x="586" y="168" width="1" height="11" fill="#26a69a"/><rect x="585" y="175" width="3" height="4" fill="#26a69a"/><rect x="590" y="174" width="1" height="14" fill="#ef5350"/><rect x="589" y="174" width="3" height="14" fill="#ef5350"/><rect x="594" y="182" width="1" height="21" fill="#ef5350"/><rect x="593" y="186" width="3" height="7" fill="#ef5350"/><rect x="598" y="181" width="1" height="12" fill="#26a69a"/><rect x="597" y="182" width="3" height="11" fill="#26a69a"/><rect x="602" y="172" width="1" height="13" fill="#26a69a"/><rect x="601" y="176" width="3" height="7" fill="#26a69a"/><rect x="606" y="173" width="1" height="9" fill="#26a69a"/><rect x="605" y="175" width="3" height="2" fill="#26a69a"/><rect x="610" y="175" width="1" height="11" fill="#ef5350"/><rect x="609" y="175" width="3" height="11" fill="#ef5350"/><rect x="614" y="180" width="1" height="9" fill="#ef5350"/><rect x="613" y="185" width="3" height="2" fill="#ef5350"/><rect x="618" y="183" width="1" height="7" fill="#ef5350"/><rect x="617" y="186" width="3" height="4" fill="#ef5350"/><rect x="622" y="185" width="1" height="7" fill="#ef5350"/><rect x="621" y="189" width="3" height="1" fill="#ef5350"/><rect x="626" y="185" width="1" height="10" fill="#ef5350"/><rect x="625" y="189" width="3" height="2" fill="#ef5350"/><rect x="630" y="174" width="1" height="18" fill="#26a69a"/><rect x="629" y="183" width="3" height="9" fill="#26a69a"/><rect x="634" y="178" width="1" height="11" fill="#ef5350"/><rect x="633" y="183" width="3" height="3" fill="#ef5350"/><rect x="638" y="171" width="1" height="18" fill="#26a69a"/><rect x="637" y="175" width="3" height="11" fill="#26a69a"/><rect x="642" y="174" width="1" height="15" fill="#ef5350"/><rect x="641" y="175" width="3" height="12" fill="#ef5350"/><rect x="646" y="185" width="1" height="12" fill="#ef5350"/><rect x="645" y="186" width="3" height="8" fill="#ef5350"/><rect x="650" y="187" width="1" height="12" fill="#26a69a"/><rect x="649" y="190" width="3" height="4" fill="#26a69a"/><rect x="654" y="190" width="1" height="30" fill="#ef5350"/><rect x="653" y="190" width="3" height="23" fill="#ef5350"/><rect x="658" y="207" width="1" height="18" fill="#ef5350"/><rect x="657" y="212" width="3" height="11" fill="#ef5350"/><rect x="662" y="210" width="1" height="22" fill="#26a69a"/><rect x="661" y="214" width="3" height="9" fill="#26a69a"/><rect x="666" y="200" width="1" height="15" fill="#26a69a"/><rect x="665" y="209" width="3" height="6" fill="#26a69a"/><rect x="670" y="206" width="1" height="14" fill="#ef5350"/><rect x="669" y="209" width="3" height="7" fill="#ef5350"/><rect x="674" y="205" width="1" height="13" fill="#26a69a"/><rect x="673" y="213" width="3" height="3" fill="#26a69a"/><rect x="678" y="208" width="1" height="15" fill="#26a69a"/><rect x="677" y="212" width="3" height="2" fill="#26a69a"/><rect x="682" y="206" width="1" height="17" fill="#ef5350"/><rect x="681" y="212" width="3" height="10" fill="#ef5350"/><rect x="686" y="216" width="1" height="9" fill="#ef5350"/><rect x="685" y="220" width="3" height="4" fill="#ef5350"/><rect x="690" y="214" width="1" height="13" fill="#26a69a"/><rect x="689" y="223" width="3" height="2" fill="#26a69a"/><rect x="694" y="222" width="1" height="19" fill="#ef5350"/><rect x="693" y="223" width="3" height="18" fill="#ef5350"/><rect x="698" y="213" width="1" height="28" fill="#26a69a"/><rect x="697" y="215" width="3" height="26" fill="#26a69a"/><rect x="702" y="213" width="1" height="11" fill="#26a69a"/><rect x="701" y="214" width="3" height="2" fill="#26a69a"/><rect x="706" y="212" width="1" height="13" fill="#ef5350"/><rect x="705" y="214" width="3" height="6" fill="#ef5350"/><rect x="710" y="216" width="1" height="10" fill="#ef5350"/><rect x="709" y="219" width="3" height="6" fill="#ef5350"/><rect x="714" y="217" width="1" height="15" fill="#26a69a"/><rect x="713" y="218" width="3" height="6" fill="#26a69a"/><rect x="718" y="208" width="1" height="11" fill="#26a69a"/><rect x="717" y="214" width="3" height="4" fill="#26a69a"/><rect x="722" y="201" width="1" height="15" fill="#26a69a"/><rect x="721" y="203" width="3" height="12" fill="#26a69a"/><rect x="726" y="199" width="1" height="13" fill="#ef5350"/><rect x="725" y="203" width="3" height="8" fill="#ef5350"/><rect x="730" y="201" width="1" height="13" fill="#26a69a"/><rect x="729" y="207" width="3" height="4" fill="#26a69a"/><rect x="734" y="207" width="1" height="17" fill="#ef5350"/><rect x="733" y="207" width="3" height="16" fill="#ef5350"/><rect x="738" y="220" width="1" height="14" fill="#ef5350"/><rect x="737" y="221" width="3" height="1" fill="#ef5350"/><rect x="742" y="221" width="1" height="12" fill="#ef5350"/><rect x="741" y="221" width="3" height="5" fill="#ef5350"/><rect x="746" y="216" width="1" height="13" fill="#26a69a"/><rect x="745" y="217" width="3" height="9" fill="#26a69a"/><rect x="750" y="213" width="1" height="11" fill="#26a69a"/><rect x="749" y="216" width="3" height="2" fill="#26a69a"/><rect x="754" y="214" width="1" height="13" fill="#ef5350"/><rect x="753" y="216" width="3" height="6" fill="#ef5350"/><rect x="758" y="208" width="1" height="24" fill="#26a69a"/><rect x="757" y="213" width="3" height="9" fill="#26a69a"/><rect x="762" y="200" width="1" height="14" fill="#26a69a"/><rect x="761" y="206" width="3" height="8" fill="#26a69a"/><rect x="766" y="201" width="1" height="57" fill="#ef5350"/><rect x="765" y="206" width="3" height="48" fill="#ef5350"/><rect x="770" y="248" width="1" height="42" fill="#ef5350"/><rect x="769" y="253" width="3" height="35" fill="#ef5350"/><rect x="774" y="263" width="1" height="25" fill="#26a69a"/><rect x="773" y="272" width="3" height="15" fill="#26a69a"/><rect x="778" y="266" width="1" height="14" fill="#26a69a"/><rect x="777" y="271" width="3" height="2" fill="#26a69a"/><rect x="782" y="268" width="1" height="11" fill="#ef5350"/><rect x="781" y="271" width="3" height="6" fill="#ef5350"/><rect x="786" y="271" width="1" height="14" fill="#ef5350"/><rect x="785" y="276" width="3" height="2" fill="#ef5350"/><rect x="790" y="277" width="1" height="13" fill="#ef5350"/><rect x="789" y="278" width="3" height="8" fill="#ef5350"/><rect x="794" y="278" width="1" height="14" fill="#ef5350"/><rect x="793" y="285" width="3" height="5" fill="#ef5350"/><rect x="798" y="288" width="1" height="18" fill="#ef5350"/><rect x="797" y="288" width="3" height="6" fill="#ef5350"/><rect x="802" y="290" width="1" height="11" fill="#ef5350"/><rect x="801" y="293" width="3" height="2" fill="#ef5350"/><rect x="806" y="284" width="1" height="13" fill="#26a69a"/><rect x="805" y="287" width="3" height="8" fill="#26a69a"/><rect x="810" y="286" width="1" height="11" fill="#ef5350"/><rect x="809" y="287" width="3" height="7" fill="#ef5350"/><rect x="814" y="285" width="1" height="12" fill="#26a69a"/><rect x="813" y="287" width="3" height="7" fill="#26a69a"/><rect x="818" y="284" width="1" height="12" fill="#ef5350"/><rect x="817" y="287" width="3" height="5" fill="#ef5350"/><rect x="822" y="290" width="1" height="18" fill="#ef5350"/><rect x="821" y="291" width="3" height="14" fill="#ef5350"/><rect x="826" y="300" width="1" height="20" fill="#ef5350"/><rect x="825" y="304" width="3" height="9" fill="#ef5350"/><rect x="830" y="306" width="1" height="20" fill="#ef5350"/><rect x="829" y="312" width="3" height="7" fill="#ef5350"/><rect x="834" y="318" width="1" height="16" fill="#ef5350"/><rect x="833" y="318" width="3" height="15" fill="#ef5350"/><rect x="838" y="319" width="1" height="18" fill="#26a69a"/><rect x="837" y="323" width="3" height="10" fill="#26a69a"/><rect x="842" y="318" width="1" height="12" fill="#26a69a"/><rect x="841" y="321" width="3" height="3" fill="#26a69a"/><rect x="846" y="314" width="1" height="42" fill="#ef5350"/><rect x="845" y="321" width="3" height="5" fill="#ef5350"/><rect x="850" y="288" width="1" height="39" fill="#26a69a"/><rect x="849" y="310" width="3" height="16" fill="#26a69a"/><rect x="854" y="296" width="1" height="25" fill="#ef5350"/><rect x="853" y="310" width="3" height="9" fill="#ef5350"/><rect x="858" y="310" width="1" height="20" fill="#26a69a"/><rect x="857" y="312" width="3" height="7" fill="#26a69a"/><rect x="862" y="302" width="1" height="18" fill="#26a69a"/><rect x="861" y="303" width="3" height="10" fill="#26a69a"/><rect x="866" y="292" width="1" height="17" fill="#26a69a"/><rect x="865" y="297" width="3" height="9" fill="#26a69a"/><rect x="870" y="292" width="1" height="13" fill="#26a69a"/><rect x="869" y="293" width="3" height="4" fill="#26a69a"/><rect x="874" y="286" width="1" height="10" fill="#26a69a"/><rect x="873" y="292" width="3" height="1" fill="#26a69a"/><rect x="878" y="287" width="1" height="12" fill="#ef5350"/><rect x="877" y="292" width="3" height="6" fill="#ef5350"/></g><polygon points="789.5,15 799.5,15 794.5,20.5" fill="#efeaef"/><rect x="882" y="38" width="4" height="1" fill="#e2e2f6"/><text filter="url(#th)" x="886.6" y="42" font-size="10" textLength="32.8" lengthAdjust="spacingAndGlyphs" fill="#e2e2f6">0.74520</text><rect x="882" y="70" width="4" height="1" fill="#e2e2f6"/><text filter="url(#th)" x="886.6" y="74" font-size="10" textLength="32.8" lengthAdjust="spacingAndGlyphs" fill="#e2e2f6">0.74160</text><rect x="882" y="103" width="4" height="1" fill="#e2e2f6"/><text filter="url(#th)" x="886.6" y="107" font-size="10" textLength="32.8" lengthAdjust="spacingAndGlyphs" fill="#e2e2f6">0.73800</text><rect x="882" y="135" width="4" height="1" fill="#e2e2f6"/><text filter="url(#th)" x="886.6" y="139" font-size="10" textLength="32.8" lengthAdjust="spacingAndGlyphs" fill="#e2e2f6">0.73440</text><rect x="882" y="167" width="4" height="1" fill="#e2e2f6"/><text filter="url(#th)" x="886.6" y="171" font-size="10" textLength="32.8" lengthAdjust="spacingAndGlyphs" fill="#e2e2f6">0.73080</text><rect x="882" y="200" width="4" height="1" fill="#e2e2f6"/><text filter="url(#th)" x="886.6" y="204" font-size="10" textLength="32.8" lengthAdjust="spacingAndGlyphs" fill="#e2e2f6">0.72720</text><rect x="882" y="232" width="4" height="1" fill="#e2e2f6"/><text filter="url(#th)" x="886.6" y="236" font-size="10" textLength="32.8" lengthAdjust="spacingAndGlyphs" fill="#e2e2f6">0.72360</text><rect x="882" y="264" width="4" height="1" fill="#e2e2f6"/><text filter="url(#th)" x="886.6" y="268" font-size="10" textLength="32.8" lengthAdjust="spacingAndGlyphs" fill="#e2e2f6">0.72000</text><rect x="882" y="296" width="4" height="1" fill="#e2e2f6"/><text filter="url(#th)" x="886.6" y="300" font-size="10" textLength="32.8" lengthAdjust="spacingAndGlyphs" fill="#e2e2f6">0.71640</text><rect x="882" y="328" width="4" height="1" fill="#e2e2f6"/><text filter="url(#th)" x="886.6" y="332" font-size="10" textLength="32.8" lengthAdjust="spacingAndGlyphs" fill="#e2e2f6">0.71280</text><rect x="884" y="298" width="39" height="11" fill="#26a69a"/><text filter="url(#th)" x="886.6" y="307" font-size="10" textLength="32.8" lengthAdjust="spacingAndGlyphs" fill="#000">0.71566</text><text filter="url(#th)" x="886.6" y="372" font-size="10" textLength="37.8" lengthAdjust="spacingAndGlyphs" fill="#e2e2f6">0.002968</text><rect x="882" y="431" width="4" height="1" fill="#e2e2f6"/><text filter="url(#th)" x="886.6" y="435" font-size="10" textLength="37.8" lengthAdjust="spacingAndGlyphs" fill="#e2e2f6">0.000000</text><g shape-rendering="crispEdges"><rect x="18" y="432" width="1" height="5" fill="#ff0000"/><rect x="22" y="432" width="1" height="5" fill="#ff0000"/><rect x="26" y="432" width="1" height="6" fill="#ff0000"/><rect x="30" y="432" width="1" height="6" fill="#ff0000"/><rect x="34" y="432" width="1" height="8" fill="#ff0000"/><rect x="38" y="432" width="1" height="9" fill="#ff0000"/><rect x="42" y="432" width="1" height="8" fill="#008000"/><rect x="46" y="432" width="1" height="9" fill="#ff0000"/><rect x="50" y="432" width="1" height="9" fill="#ff0000"/><rect x="54" y="432" width="1" height="9" fill="#008000"/><rect x="58" y="432" width="1" height="8" fill="#008000"/><rect x="62" y="432" width="1" height="8" fill="#008000"/><rect x="66" y="432" width="1" height="7" fill="#008000"/><rect x="70" y="432" width="1" height="4" fill="#008000"/><rect x="74" y="432" width="1" height="3" fill="#008000"/><rect x="78" y="432" width="1" height="2" fill="#008000"/><rect x="82" y="432" width="1" height="4" fill="#ff0000"/><rect x="94" y="430" width="1" height="1" fill="#008000"/><rect x="98" y="429" width="1" height="2" fill="#008000"/><rect x="102" y="427" width="1" height="4" fill="#008000"/><rect x="106" y="427" width="1" height="4" fill="#008000"/><rect x="110" y="427" width="1" height="4" fill="#ff0000"/><rect x="114" y="427" width="1" height="4" fill="#ff0000"/><rect x="118" y="429" width="1" height="2" fill="#ff0000"/><rect x="122" y="428" width="1" height="3" fill="#008000"/><rect x="126" y="425" width="1" height="6" fill="#008000"/><rect x="130" y="423" width="1" height="8" fill="#008000"/><rect x="134" y="422" width="1" height="9" fill="#008000"/><rect x="138" y="423" width="1" height="8" fill="#ff0000"/><rect x="142" y="424" width="1" height="7" fill="#ff0000"/><rect x="146" y="424" width="1" height="7" fill="#ff0000"/><rect x="150" y="424" width="1" height="7" fill="#ff0000"/><rect x="154" y="423" width="1" height="8" fill="#008000"/><rect x="158" y="424" width="1" height="7" fill="#ff0000"/><rect x="162" y="426" width="1" height="5" fill="#ff0000"/><rect x="166" y="427" width="1" height="4" fill="#ff0000"/><rect x="170" y="428" width="1" height="3" fill="#ff0000"/><rect x="178" y="432" width="1" height="3" fill="#ff0000"/><rect x="182" y="432" width="1" height="3" fill="#008000"/><rect x="190" y="430" width="1" height="1" fill="#008000"/><rect x="194" y="429" width="1" height="2" fill="#008000"/><rect x="198" y="429" width="1" height="2" fill="#ff0000"/><rect x="202" y="422" width="1" height="9" fill="#008000"/><rect x="206" y="420" width="1" height="11" fill="#008000"/><rect x="210" y="419" width="1" height="12" fill="#008000"/><rect x="214" y="420" width="1" height="11" fill="#ff0000"/><rect x="218" y="422" width="1" height="9" fill="#ff0000"/><rect x="222" y="426" width="1" height="5" fill="#ff0000"/><rect x="230" y="432" width="1" height="4" fill="#ff0000"/><rect x="234" y="432" width="1" height="6" fill="#ff0000"/><rect x="238" y="432" width="1" height="7" fill="#ff0000"/><rect x="242" y="432" width="1" height="7" fill="#ff0000"/><rect x="246" y="432" width="1" height="6" fill="#008000"/><rect x="250" y="432" width="1" height="2" fill="#008000"/><rect x="254" y="430" width="1" height="1" fill="#008000"/><rect x="258" y="430" width="1" height="1" fill="#ff0000"/><rect x="262" y="432" width="1" height="2" fill="#ff0000"/><rect x="266" y="432" width="1" height="2" fill="#ff0000"/><rect x="270" y="432" width="1" height="7" fill="#ff0000"/><rect x="274" y="432" width="1" height="7" fill="#008000"/><rect x="278" y="432" width="1" height="9" fill="#ff0000"/><rect x="282" y="432" width="1" height="13" fill="#ff0000"/><rect x="286" y="432" width="1" height="19" fill="#ff0000"/><rect x="290" y="432" width="1" height="25" fill="#ff0000"/><rect x="294" y="432" width="1" height="28" fill="#ff0000"/><rect x="298" y="432" width="1" height="32" fill="#ff0000"/><rect x="302" y="432" width="1" height="33" fill="#ff0000"/><rect x="306" y="432" width="1" height="32" fill="#008000"/><rect x="310" y="432" width="1" height="30" fill="#008000"/><rect x="314" y="432" width="1" height="29" fill="#008000"/><rect x="318" y="432" width="1" height="25" fill="#008000"/><rect x="322" y="432" width="1" height="19" fill="#008000"/><rect x="326" y="432" width="1" height="15" fill="#008000"/><rect x="330" y="432" width="1" height="13" fill="#008000"/><rect x="334" y="432" width="1" height="11" fill="#008000"/><rect x="338" y="432" width="1" height="10" fill="#008000"/><rect x="342" y="432" width="1" height="8" fill="#008000"/><rect x="346" y="432" width="1" height="4" fill="#008000"/><rect x="350" y="432" width="1" height="7" fill="#ff0000"/><rect x="354" y="432" width="1" height="13" fill="#ff0000"/><rect x="358" y="432" width="1" height="19" fill="#ff0000"/><rect x="362" y="432" width="1" height="20" fill="#ff0000"/><rect x="366" y="432" width="1" height="16" fill="#008000"/><rect x="370" y="432" width="1" height="13" fill="#008000"/><rect x="374" y="432" width="1" height="13" fill="#008000"/><rect x="378" y="432" width="1" height="16" fill="#ff0000"/><rect x="382" y="432" width="1" height="16" fill="#008000"/><rect x="386" y="432" width="1" height="13" fill="#008000"/><rect x="390" y="432" width="1" height="13" fill="#ff0000"/><rect x="394" y="432" width="1" height="13" fill="#ff0000"/><rect x="398" y="432" width="1" height="12" fill="#008000"/><rect x="402" y="432" width="1" height="7" fill="#008000"/><rect x="406" y="428" width="1" height="3" fill="#008000"/><rect x="410" y="420" width="1" height="11" fill="#008000"/><rect x="414" y="414" width="1" height="17" fill="#008000"/><rect x="418" y="409" width="1" height="22" fill="#008000"/><rect x="422" y="407" width="1" height="24" fill="#008000"/><rect x="426" y="408" width="1" height="23" fill="#ff0000"/><rect x="430" y="408" width="1" height="23" fill="#ff0000"/><rect x="434" y="409" width="1" height="22" fill="#ff0000"/><rect x="438" y="411" width="1" height="20" fill="#ff0000"/><rect x="442" y="416" width="1" height="15" fill="#ff0000"/><rect x="446" y="423" width="1" height="8" fill="#ff0000"/><rect x="450" y="429" width="1" height="2" fill="#ff0000"/><rect x="454" y="432" width="1" height="3" fill="#ff0000"/><rect x="458" y="432" width="1" height="4" fill="#ff0000"/><rect x="466" y="427" width="1" height="4" fill="#008000"/><rect x="470" y="422" width="1" height="9" fill="#008000"/><rect x="474" y="419" width="1" height="12" fill="#008000"/><rect x="478" y="418" width="1" height="13" fill="#008000"/><rect x="482" y="417" width="1" height="14" fill="#008000"/><rect x="486" y="418" width="1" height="13" fill="#ff0000"/><rect x="490" y="419" width="1" height="12" fill="#ff0000"/><rect x="494" y="421" width="1" height="10" fill="#ff0000"/><rect x="498" y="423" width="1" height="8" fill="#ff0000"/><rect x="502" y="423" width="1" height="8" fill="#ff0000"/><rect x="506" y="424" width="1" height="7" fill="#ff0000"/><rect x="510" y="428" width="1" height="3" fill="#ff0000"/><rect x="518" y="432" width="1" height="2" fill="#ff0000"/><rect x="522" y="432" width="1" height="5" fill="#ff0000"/><rect x="526" y="432" width="1" height="5" fill="#ff0000"/><rect x="530" y="432" width="1" height="6" fill="#ff0000"/><rect x="534" y="432" width="1" height="10" fill="#ff0000"/><rect x="538" y="432" width="1" height="12" fill="#ff0000"/><rect x="542" y="432" width="1" height="10" fill="#008000"/><rect x="546" y="432" width="1" height="4" fill="#008000"/><rect x="550" y="428" width="1" height="3" fill="#008000"/><rect x="554" y="424" width="1" height="7" fill="#008000"/><rect x="558" y="423" width="1" height="8" fill="#008000"/><rect x="562" y="420" width="1" height="11" fill="#008000"/><rect x="566" y="417" width="1" height="14" fill="#008000"/><rect x="570" y="414" width="1" height="17" fill="#008000"/><rect x="574" y="413" width="1" height="18" fill="#008000"/><rect x="578" y="413" width="1" height="18" fill="#008000"/><rect x="582" y="414" width="1" height="17" fill="#ff0000"/><rect x="586" y="415" width="1" height="16" fill="#ff0000"/><rect x="590" y="418" width="1" height="13" fill="#ff0000"/><rect x="594" y="423" width="1" height="8" fill="#ff0000"/><rect x="598" y="425" width="1" height="6" fill="#ff0000"/><rect x="602" y="426" width="1" height="5" fill="#ff0000"/><rect x="606" y="427" width="1" height="4" fill="#ff0000"/><rect x="610" y="430" width="1" height="1" fill="#ff0000"/><rect x="614" y="432" width="1" height="2" fill="#ff0000"/><rect x="618" y="432" width="1" height="4" fill="#ff0000"/><rect x="622" y="432" width="1" height="5" fill="#ff0000"/><rect x="626" y="432" width="1" height="6" fill="#ff0000"/><rect x="630" y="432" width="1" height="6" fill="#008000"/><rect x="634" y="432" width="1" height="6" fill="#008000"/><rect x="638" y="432" width="1" height="4" fill="#008000"/><rect x="642" y="432" width="1" height="4" fill="#ff0000"/><rect x="646" y="432" width="1" height="5" fill="#ff0000"/><rect x="650" y="432" width="1" height="6" fill="#ff0000"/><rect x="654" y="432" width="1" height="10" fill="#ff0000"/><rect x="658" y="432" width="1" height="15" fill="#ff0000"/><rect x="662" y="432" width="1" height="16" fill="#ff0000"/><rect x="666" y="432" width="1" height="15" fill="#008000"/><rect x="670" y="432" width="1" height="15" fill="#008000"/><rect x="674" y="432" width="1" height="13" fill="#008000"/><rect x="678" y="432" width="1" height="11" fill="#008000"/><rect x="682" y="432" width="1" height="10" fill="#008000"/><rect x="686" y="432" width="1" height="9" fill="#008000"/><rect x="690" y="432" width="1" height="8" fill="#008000"/><rect x="694" y="432" width="1" height="10" fill="#ff0000"/><rect x="698" y="432" width="1" height="7" fill="#008000"/><rect x="702" y="432" width="1" height="3" fill="#008000"/><rect x="706" y="432" width="1" height="2" fill="#008000"/><rect x="714" y="430" width="1" height="1" fill="#008000"/><rect x="718" y="428" width="1" height="3" fill="#008000"/><rect x="722" y="424" width="1" height="7" fill="#008000"/><rect x="726" y="423" width="1" height="8" fill="#008000"/><rect x="730" y="423" width="1" height="8" fill="#008000"/><rect x="734" y="426" width="1" height="5" fill="#ff0000"/><rect x="738" y="428" width="1" height="3" fill="#ff0000"/><rect x="742" y="430" width="1" height="1" fill="#ff0000"/><rect x="746" y="430" width="1" height="1" fill="#ff0000"/><rect x="750" y="430" width="1" height="1" fill="#008000"/><rect x="758" y="430" width="1" height="1" fill="#008000"/><rect x="762" y="428" width="1" height="3" fill="#008000"/><rect x="766" y="432" width="1" height="4" fill="#ff0000"/><rect x="770" y="432" width="1" height="15" fill="#ff0000"/><rect x="774" y="432" width="1" height="19" fill="#ff0000"/><rect x="778" y="432" width="1" height="21" fill="#ff0000"/><rect x="782" y="432" width="1" height="21" fill="#ff0000"/><rect x="786" y="432" width="1" height="21" fill="#008000"/><rect x="790" y="432" width="1" height="20" fill="#008000"/><rect x="794" y="432" width="1" height="19" fill="#008000"/><rect x="798" y="432" width="1" height="16" fill="#008000"/><rect x="802" y="432" width="1" height="13" fill="#008000"/><rect x="806" y="432" width="1" height="9" fill="#008000"/><rect x="810" y="432" width="1" height="7" fill="#008000"/><rect x="814" y="432" width="1" height="3" fill="#008000"/><rect x="826" y="432" width="1" height="3" fill="#ff0000"/><rect x="830" y="432" width="1" height="4" fill="#ff0000"/><rect x="834" y="432" width="1" height="7" fill="#ff0000"/><rect x="838" y="432" width="1" height="7" fill="#008000"/><rect x="842" y="432" width="1" height="5" fill="#008000"/><rect x="846" y="432" width="1" height="4" fill="#008000"/><rect x="850" y="430" width="1" height="1" fill="#008000"/><rect x="854" y="428" width="1" height="3" fill="#008000"/><rect x="858" y="425" width="1" height="6" fill="#008000"/><rect x="862" y="421" width="1" height="10" fill="#008000"/><rect x="866" y="417" width="1" height="14" fill="#008000"/><rect x="870" y="414" width="1" height="17" fill="#008000"/><rect x="874" y="412" width="1" height="19" fill="#008000"/><rect x="878" y="413" width="1" height="18" fill="#ff0000"/></g><g shape-rendering="crispEdges"><rect x="15" y="431" width="2" height="1" fill="#fff"/><rect x="20" y="431" width="3" height="1" fill="#fff"/><rect x="26" y="431" width="3" height="1" fill="#fff"/><rect x="32" y="431" width="3" height="1" fill="#fff"/><rect x="38" y="431" width="3" height="1" fill="#fff"/><rect x="44" y="431" width="3" height="1" fill="#fff"/><rect x="50" y="431" width="3" height="1" fill="#fff"/><rect x="56" y="431" width="3" height="1" fill="#fff"/><rect x="62" y="431" width="3" height="1" fill="#fff"/><rect x="68" y="431" width="3" height="1" fill="#fff"/><rect x="74" y="431" width="3" height="1" fill="#fff"/><rect x="80" y="431" width="3" height="1" fill="#fff"/><rect x="86" y="431" width="3" height="1" fill="#fff"/><rect x="92" y="431" width="3" height="1" fill="#fff"/><rect x="98" y="431" width="3" height="1" fill="#fff"/><rect x="104" y="431" width="3" height="1" fill="#fff"/><rect x="110" y="431" width="3" height="1" fill="#fff"/><rect x="116" y="431" width="3" height="1" fill="#fff"/><rect x="122" y="431" width="3" height="1" fill="#fff"/><rect x="128" y="431" width="3" height="1" fill="#fff"/><rect x="134" y="431" width="3" height="1" fill="#fff"/><rect x="140" y="431" width="3" height="1" fill="#fff"/><rect x="146" y="431" width="3" height="1" fill="#fff"/><rect x="152" y="431" width="3" height="1" fill="#fff"/><rect x="158" y="431" width="3" height="1" fill="#fff"/><rect x="164" y="431" width="3" height="1" fill="#fff"/><rect x="170" y="431" width="3" height="1" fill="#fff"/><rect x="176" y="431" width="3" height="1" fill="#fff"/><rect x="182" y="431" width="3" height="1" fill="#fff"/><rect x="188" y="431" width="3" height="1" fill="#fff"/><rect x="194" y="431" width="3" height="1" fill="#fff"/><rect x="200" y="431" width="3" height="1" fill="#fff"/><rect x="206" y="431" width="3" height="1" fill="#fff"/><rect x="212" y="431" width="3" height="1" fill="#fff"/><rect x="218" y="431" width="3" height="1" fill="#fff"/><rect x="224" y="431" width="3" height="1" fill="#fff"/><rect x="230" y="431" width="3" height="1" fill="#fff"/><rect x="236" y="431" width="3" height="1" fill="#fff"/><rect x="242" y="431" width="3" height="1" fill="#fff"/><rect x="248" y="431" width="3" height="1" fill="#fff"/><rect x="254" y="431" width="3" height="1" fill="#fff"/><rect x="260" y="431" width="3" height="1" fill="#fff"/><rect x="266" y="431" width="3" height="1" fill="#fff"/><rect x="272" y="431" width="3" height="1" fill="#fff"/><rect x="278" y="431" width="3" height="1" fill="#fff"/><rect x="284" y="431" width="3" height="1" fill="#fff"/><rect x="290" y="431" width="3" height="1" fill="#fff"/><rect x="296" y="431" width="3" height="1" fill="#fff"/><rect x="302" y="431" width="3" height="1" fill="#fff"/><rect x="308" y="431" width="3" height="1" fill="#fff"/><rect x="314" y="431" width="3" height="1" fill="#fff"/><rect x="320" y="431" width="3" height="1" fill="#fff"/><rect x="326" y="431" width="3" height="1" fill="#fff"/><rect x="332" y="431" width="3" height="1" fill="#fff"/><rect x="338" y="431" width="3" height="1" fill="#fff"/><rect x="344" y="431" width="3" height="1" fill="#fff"/><rect x="350" y="431" width="3" height="1" fill="#fff"/><rect x="356" y="431" width="3" height="1" fill="#fff"/><rect x="362" y="431" width="3" height="1" fill="#fff"/><rect x="368" y="431" width="3" height="1" fill="#fff"/><rect x="374" y="431" width="3" height="1" fill="#fff"/><rect x="380" y="431" width="3" height="1" fill="#fff"/><rect x="386" y="431" width="3" height="1" fill="#fff"/><rect x="392" y="431" width="3" height="1" fill="#fff"/><rect x="398" y="431" width="3" height="1" fill="#fff"/><rect x="404" y="431" width="3" height="1" fill="#fff"/><rect x="410" y="431" width="3" height="1" fill="#fff"/><rect x="416" y="431" width="3" height="1" fill="#fff"/><rect x="422" y="431" width="3" height="1" fill="#fff"/><rect x="428" y="431" width="3" height="1" fill="#fff"/><rect x="434" y="431" width="3" height="1" fill="#fff"/><rect x="440" y="431" width="3" height="1" fill="#fff"/><rect x="446" y="431" width="3" height="1" fill="#fff"/><rect x="452" y="431" width="3" height="1" fill="#fff"/><rect x="458" y="431" width="3" height="1" fill="#fff"/><rect x="464" y="431" width="3" height="1" fill="#fff"/><rect x="470" y="431" width="3" height="1" fill="#fff"/><rect x="476" y="431" width="3" height="1" fill="#fff"/><rect x="482" y="431" width="3" height="1" fill="#fff"/><rect x="488" y="431" width="3" height="1" fill="#fff"/><rect x="494" y="431" width="3" height="1" fill="#fff"/><rect x="500" y="431" width="3" height="1" fill="#fff"/><rect x="506" y="431" width="3" height="1" fill="#fff"/><rect x="512" y="431" width="3" height="1" fill="#fff"/><rect x="518" y="431" width="3" height="1" fill="#fff"/><rect x="524" y="431" width="3" height="1" fill="#fff"/><rect x="530" y="431" width="3" height="1" fill="#fff"/><rect x="536" y="431" width="3" height="1" fill="#fff"/><rect x="542" y="431" width="3" height="1" fill="#fff"/><rect x="548" y="431" width="3" height="1" fill="#fff"/><rect x="554" y="431" width="3" height="1" fill="#fff"/><rect x="560" y="431" width="3" height="1" fill="#fff"/><rect x="566" y="431" width="3" height="1" fill="#fff"/><rect x="572" y="431" width="3" height="1" fill="#fff"/><rect x="578" y="431" width="3" height="1" fill="#fff"/><rect x="584" y="431" width="3" height="1" fill="#fff"/><rect x="590" y="431" width="3" height="1" fill="#fff"/><rect x="596" y="431" width="3" height="1" fill="#fff"/><rect x="602" y="431" width="3" height="1" fill="#fff"/><rect x="608" y="431" width="3" height="1" fill="#fff"/><rect x="614" y="431" width="3" height="1" fill="#fff"/><rect x="620" y="431" width="3" height="1" fill="#fff"/><rect x="626" y="431" width="3" height="1" fill="#fff"/><rect x="632" y="431" width="3" height="1" fill="#fff"/><rect x="638" y="431" width="3" height="1" fill="#fff"/><rect x="644" y="431" width="3" height="1" fill="#fff"/><rect x="650" y="431" width="3" height="1" fill="#fff"/><rect x="656" y="431" width="3" height="1" fill="#fff"/><rect x="662" y="431" width="3" height="1" fill="#fff"/><rect x="668" y="431" width="3" height="1" fill="#fff"/><rect x="674" y="431" width="3" height="1" fill="#fff"/><rect x="680" y="431" width="3" height="1" fill="#fff"/><rect x="686" y="431" width="3" height="1" fill="#fff"/><rect x="692" y="431" width="3" height="1" fill="#fff"/><rect x="698" y="431" width="3" height="1" fill="#fff"/><rect x="704" y="431" width="3" height="1" fill="#fff"/><rect x="710" y="431" width="3" height="1" fill="#fff"/><rect x="716" y="431" width="3" height="1" fill="#fff"/><rect x="722" y="431" width="3" height="1" fill="#fff"/><rect x="728" y="431" width="3" height="1" fill="#fff"/><rect x="734" y="431" width="3" height="1" fill="#fff"/><rect x="740" y="431" width="3" height="1" fill="#fff"/><rect x="746" y="431" width="3" height="1" fill="#fff"/><rect x="752" y="431" width="3" height="1" fill="#fff"/><rect x="758" y="431" width="3" height="1" fill="#fff"/><rect x="764" y="431" width="3" height="1" fill="#fff"/><rect x="770" y="431" width="3" height="1" fill="#fff"/><rect x="776" y="431" width="3" height="1" fill="#fff"/><rect x="782" y="431" width="3" height="1" fill="#fff"/><rect x="788" y="431" width="3" height="1" fill="#fff"/><rect x="794" y="431" width="3" height="1" fill="#fff"/><rect x="800" y="431" width="3" height="1" fill="#fff"/><rect x="806" y="431" width="3" height="1" fill="#fff"/><rect x="812" y="431" width="3" height="1" fill="#fff"/><rect x="818" y="431" width="3" height="1" fill="#fff"/><rect x="824" y="431" width="3" height="1" fill="#fff"/><rect x="830" y="431" width="3" height="1" fill="#fff"/><rect x="836" y="431" width="3" height="1" fill="#fff"/><rect x="842" y="431" width="3" height="1" fill="#fff"/><rect x="848" y="431" width="3" height="1" fill="#fff"/><rect x="854" y="431" width="3" height="1" fill="#fff"/><rect x="860" y="431" width="3" height="1" fill="#fff"/><rect x="866" y="431" width="3" height="1" fill="#fff"/><rect x="872" y="431" width="3" height="1" fill="#fff"/><rect x="878" y="431" width="3" height="1" fill="#fff"/></g><polyline points="15.1,400.5 18.5,400.5 22.5,401.4 26.5,401.4 30.5,403.2 34.5,404.2 38.5,406.1 42.5,408.0 46.5,409.8 50.5,411.9 54.5,414.1 58.5,416.1 62.5,418.3 66.5,420.1 70.5,421.4 74.5,422.3 78.5,423.1 82.5,423.9 86.5,424.4 90.5,424.3 94.5,424.3 98.5,424.3 102.5,423.4 106.5,423.4 110.5,422.5 114.5,421.6 118.5,420.4 122.5,419.4 126.5,418.3 130.5,417.2 134.5,415.4 138.5,414.2 142.5,411.4 146.5,409.5 150.5,407.8 154.5,405.9 158.5,403.3 162.5,401.8 166.5,400.6 170.5,399.5 174.5,398.5 178.5,398.5 182.5,398.5 186.5,397.4 190.5,397.4 194.5,397.4 198.5,397.4 202.5,396.0 206.5,394.1 210.5,392.3 214.5,390.7 218.5,388.1 222.5,386.1 226.5,384.5 230.5,383.4 234.5,382.6 238.5,383.3 242.5,383.3 246.5,384.1 250.5,385.1 254.5,385.5 258.5,387.3 262.5,387.3 266.5,388.0 270.5,388.3 274.5,389.4 278.5,390.4 282.5,391.4 286.5,394.3 290.5,397.7 294.5,402.4 298.5,407.9 302.5,414.0 306.5,420.6 310.5,428.3 314.5,435.6 318.5,442.9 322.5,449.4 326.5,454.6 330.5,459.4 334.5,463.8 338.5,466.8 342.5,468.9 346.5,470.6 350.5,472.7 354.5,475.3 358.5,477.8 362.5,481.1 366.5,484.7 370.5,487.3 374.5,490.9 378.5,494.0 382.5,497.7 386.5,502.3 390.5,505.3 394.5,508.9 398.5,511.0 402.5,513.5 406.5,515.1 410.5,515.4 414.5,513.2 418.5,511.0 422.5,507.3 426.5,503.3 430.5,498.4 434.5,493.0 438.5,487.4 442.5,481.8 446.5,477.2 450.5,474.2 454.5,472.5 458.5,471.6 462.5,470.7 466.5,469.8 470.5,468.7 474.5,467.2 478.5,465.3 482.5,462.9 486.5,460.0 490.5,457.0 494.5,454.3 498.5,451.1 502.5,448.2 506.5,446.0 510.5,444.2 514.5,443.6 518.5,443.6 522.5,443.6 526.5,443.6 530.5,443.6 534.5,444.1 538.5,445.9 542.5,447.8 546.5,449.5 550.5,450.6 554.5,450.6 558.5,449.9 562.5,448.4 566.5,446.6 570.5,443.6 574.5,440.7 578.5,435.8 582.5,431.6 586.5,427.0 590.5,423.3 594.5,420.1 598.5,417.5 602.5,414.4 606.5,412.1 610.5,411.1 614.5,410.6 618.5,410.6 622.5,411.3 626.5,412.4 630.5,412.4 634.5,413.4 638.5,414.5 642.5,415.4 646.5,416.7 650.5,418.0 654.5,419.3 658.5,421.1 662.5,423.7 666.5,426.0 670.5,428.9 674.5,431.8 678.5,435.0 682.5,437.5 686.5,440.6 690.5,443.3 694.5,445.4 698.5,447.2 702.5,448.5 706.5,449.4 710.5,450.2 714.5,450.2 718.5,450.2 722.5,449.5 726.5,448.3 730.5,447.2 734.5,445.7 738.5,444.5 742.5,443.3 746.5,442.2 750.5,441.5 754.5,441.5 758.5,440.4 762.5,440.4 766.5,440.4 770.5,441.9 774.5,444.5 778.5,447.4 782.5,451.7 786.5,455.3 790.5,459.3 794.5,463.1 798.5,467.8 802.5,472.6 806.5,476.0 810.5,479.0 814.5,480.6 818.5,481.9 822.5,482.4 826.5,482.9 830.5,484.2 834.5,485.0 838.5,485.4 842.5,485.5 846.5,486.4 850.5,487.3 854.5,487.3 858.5,487.3 862.5,486.2 866.5,484.3 870.5,481.7 874.5,477.7 878.5,474.3" fill="none" stroke="#ff0000" stroke-width="1" shape-rendering="crispEdges"/><polyline points="15.1,402.4 18.5,403.5 22.5,405.6 26.5,407.1 30.5,409.1 34.5,411.7 38.5,413.9 42.5,415.7 46.5,417.9 50.5,420.5 54.5,422.1 58.5,423.0 62.5,424.0 66.5,425.2 70.5,424.6 74.5,423.5 78.5,424.0 82.5,426.1 86.5,425.0 90.5,424.0 94.5,423.4 98.5,421.5 102.5,419.9 106.5,418.6 110.5,418.4 114.5,417.4 118.5,418.3 122.5,416.4 126.5,412.1 130.5,409.2 134.5,405.9 138.5,404.4 142.5,403.4 146.5,402.3 150.5,400.8 154.5,397.8 158.5,396.5 162.5,396.5 166.5,396.5 170.5,395.6 174.5,397.4 178.5,400.0 182.5,400.4 186.5,397.6 190.5,396.3 194.5,394.4 198.5,394.4 202.5,387.3 206.5,383.7 210.5,380.5 214.5,378.6 218.5,378.4 222.5,379.8 226.5,384.1 230.5,386.1 234.5,387.3 238.5,388.3 242.5,390.1 246.5,389.1 250.5,386.6 254.5,386.0 258.5,386.0 262.5,388.0 266.5,389.2 270.5,393.7 274.5,394.5 278.5,398.5 282.5,404.3 286.5,411.5 290.5,421.9 294.5,429.7 298.5,438.8 302.5,447.0 306.5,452.7 310.5,457.6 314.5,464.7 318.5,467.8 322.5,468.5 326.5,468.5 330.5,471.5 334.5,473.7 338.5,475.1 342.5,476.9 346.5,474.8 350.5,478.3 354.5,486.5 358.5,495.8 362.5,500.1 366.5,499.2 370.5,500.2 374.5,502.6 378.5,508.4 382.5,512.8 386.5,515.2 390.5,518.8 394.5,521.8 398.5,522.4 402.5,519.9 406.5,511.6 410.5,503.8 414.5,497.2 418.5,489.7 422.5,482.6 426.5,478.8 430.5,474.4 434.5,469.6 438.5,466.5 442.5,465.8 446.5,467.9 450.5,471.4 454.5,473.7 458.5,474.1 462.5,470.1 466.5,465.6 470.5,459.4 474.5,455.4 478.5,452.6 482.5,449.9 486.5,447.7 490.5,445.6 494.5,444.2 498.5,442.0 502.5,440.3 506.5,439.2 510.5,440.7 514.5,443.0 518.5,444.9 522.5,446.2 526.5,446.6 530.5,447.6 534.5,452.5 538.5,456.6 542.5,457.4 546.5,453.7 550.5,449.0 554.5,443.3 558.5,441.3 562.5,438.3 566.5,433.2 570.5,428.7 574.5,422.6 578.5,416.4 582.5,413.9 586.5,411.0 590.5,410.6 594.5,411.5 598.5,411.3 602.5,409.3 606.5,408.5 610.5,409.8 614.5,411.4 618.5,413.1 622.5,414.9 626.5,416.8 630.5,417.5 634.5,418.2 638.5,417.5 642.5,418.1 646.5,420.2 650.5,422.5 654.5,428.2 658.5,434.2 662.5,437.7 666.5,440.0 670.5,442.2 674.5,444.4 678.5,444.6 682.5,446.6 686.5,449.0 690.5,450.5 694.5,453.6 698.5,452.6 702.5,450.4 706.5,450.2 710.5,449.8 714.5,448.0 718.5,445.8 722.5,442.9 726.5,440.9 730.5,438.9 734.5,440.1 738.5,441.4 742.5,442.1 746.5,441.7 750.5,440.5 754.5,440.6 758.5,439.0 762.5,436.7 766.5,444.6 770.5,454.1 774.5,462.2 778.5,466.8 782.5,471.0 786.5,474.4 790.5,478.1 794.5,480.6 798.5,482.7 802.5,485.1 806.5,484.2 810.5,484.2 814.5,483.3 818.5,481.6 822.5,482.6 826.5,484.8 830.5,487.3 834.5,490.3 838.5,491.0 842.5,491.0 846.5,489.7 850.5,486.2 854.5,484.6 858.5,481.5 862.5,477.0 866.5,470.8 870.5,464.8 874.5,460.0 878.5,457.1" fill="none" stroke="#0000ff" stroke-width="1" shape-rendering="crispEdges"/><text filter="url(#th)" x="55.6" y="28" font-size="10" textLength="42.1" lengthAdjust="spacingAndGlyphs" fill="#e2e2f6">NZDUSD,</text><text filter="url(#th)" x="100.1" y="28" font-size="10" textLength="15.0" lengthAdjust="spacingAndGlyphs" fill="#e2e2f6">H1:</text><text filter="url(#th)" x="121.2" y="28" font-size="10" textLength="21.4" lengthAdjust="spacingAndGlyphs" fill="#e2e2f6">New</text><text filter="url(#th)" x="144.9" y="28" font-size="10" textLength="30.9" lengthAdjust="spacingAndGlyphs" fill="#e2e2f6">Zealand</text><text filter="url(#th)" x="179.2" y="28" font-size="10" textLength="25.0" lengthAdjust="spacingAndGlyphs" fill="#e2e2f6">Dollar</text><text filter="url(#th)" x="206.4" y="28" font-size="10" textLength="9.6" lengthAdjust="spacingAndGlyphs" fill="#e2e2f6">vs</text><text filter="url(#th)" x="219.4" y="28" font-size="10" textLength="12.6" lengthAdjust="spacingAndGlyphs" fill="#e2e2f6">US</text><text filter="url(#th)" x="235.3" y="28" font-size="10" textLength="23.7" lengthAdjust="spacingAndGlyphs" fill="#e2e2f6">Dollar</text><text filter="url(#th)" x="17.6" y="376" font-size="10" textLength="65.9" lengthAdjust="spacingAndGlyphs" fill="#e2e2f6">MACD(12,26,9)</text><text filter="url(#th)" x="86.8" y="376" font-size="10" textLength="37.6" lengthAdjust="spacingAndGlyphs" fill="#e2e2f6">0.000049</text><text filter="url(#th)" x="127.6" y="376" font-size="10" textLength="37.4" lengthAdjust="spacingAndGlyphs" fill="#e2e2f6">0.000433</text><text filter="url(#th)" x="168.6" y="376" font-size="10" textLength="41.3" lengthAdjust="spacingAndGlyphs" fill="#e2e2f6">-0.000384</text><g shape-rendering="crispEdges"><rect x="18" y="18" width="15" height="12" fill="#ffffff"/><rect x="18" y="18" width="15" height="3" fill="#7b7bf0"/><rect x="19" y="18" width="13" height="1" fill="#a8a8ff"/><rect x="20" y="22" width="5" height="1" fill="#e06060"/><rect x="26" y="22" width="5" height="1" fill="#6060e8"/><rect x="20" y="24" width="5" height="1" fill="#e06060"/><rect x="26" y="24" width="5" height="1" fill="#6060e8"/><rect x="20" y="26" width="5" height="1" fill="#e06060"/><rect x="26" y="26" width="5" height="1" fill="#6060e8"/><rect x="20" y="28" width="5" height="1" fill="#e06060"/><rect x="26" y="28" width="5" height="1" fill="#6060e8"/><rect x="20" y="23" width="5" height="1" fill="#f3c8c8"/><rect x="26" y="23" width="5" height="1" fill="#c8c8f6"/><rect x="20" y="25" width="5" height="1" fill="#f3c8c8"/><rect x="26" y="25" width="5" height="1" fill="#c8c8f6"/><rect x="20" y="27" width="5" height="1" fill="#f3c8c8"/><rect x="26" y="27" width="5" height="1" fill="#c8c8f6"/><path d="M35 19h4v4h3v7h-7z" fill="#2020e0"/><path d="M46 19h4v11h-7v-7h3z" fill="#c83030"/><rect x="39" y="19" width="7" height="4" fill="#c8c8c8"/><rect x="40" y="21" width="5" height="1" fill="#707070"/><rect x="36" y="28" width="4" height="1" fill="#9090ff"/><rect x="45" y="28" width="4" height="1" fill="#f09090"/></g><g opacity="0.92"><rect x="827" y="515" width="1" height="29" fill="#4a7fa8"/><rect x="820" y="532" width="15" height="6" fill="#2a6ea6"/><rect x="845" y="494" width="1" height="50" fill="#4a7fa8"/><rect x="838" y="498" width="15" height="40" fill="#2a6ea6"/><path d="M853,498 A13,11 0 1 1 841,512 L853,512 Z" fill="#1f5784"/><text x="856.5" y="538" font-size="29" font-weight="bold" textLength="41" lengthAdjust="spacingAndGlyphs" fill="#2a6ea6" stroke="#2a6ea6" stroke-width="1.3">rof</text><rect x="898" y="526" width="10" height="3.5" fill="#2a6ea6"/><text x="910.5" y="538" font-size="29" font-weight="bold" textLength="35" lengthAdjust="spacingAndGlyphs" fill="#2a6ea6" stroke="#2a6ea6" stroke-width="1.3">FX</text></g><clipPath id="cb"><rect x="882" y="360" width="52" height="173"/></clipPath><text filter="url(#th)" x="885.6" y="536" font-size="10" textLength="40.8" lengthAdjust="spacingAndGlyphs" fill="#e2e2f6" clip-path="url(#cb)">-0.004409</text></svg></body></html>
